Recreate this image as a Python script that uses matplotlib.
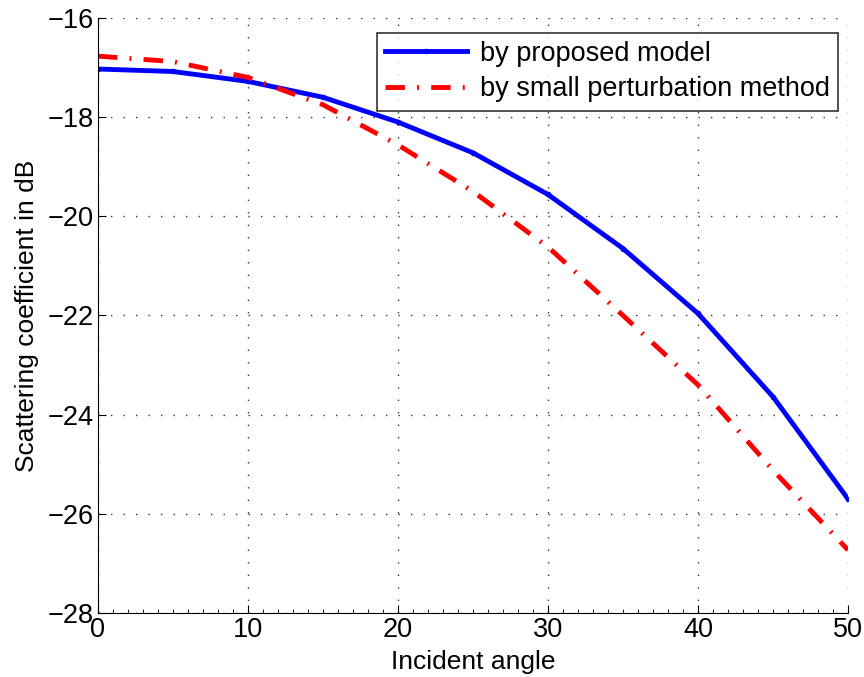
import matplotlib
matplotlib.use("Agg")
import matplotlib.pyplot as plt
from matplotlib.ticker import MultipleLocator

# incident angle (deg)
angle = [0, 5, 10, 15, 20, 25, 30, 35, 40, 45, 50]
# scattering coefficient in dB
proposed = [-17.03, -17.08, -17.28, -17.6, -18.1, -18.72, -19.56, -20.65, -21.96, -23.64, -25.7]
spm = [-16.77, -16.88, -17.2, -17.75, -18.56, -19.5, -20.62, -22.0, -23.4, -25.12, -26.73]

plt.rcParams['font.family'] = ['Liberation Sans', 'DejaVu Sans']

fig = plt.figure(figsize=(8.64, 6.77), dpi=100)
ax = fig.add_axes([0.1134, 0.0945, 0.8681, 0.879])

ax.plot(angle, proposed, '.-', color='#0000ff', lw=3.5, ms=6, label='by proposed model')
ax.plot(angle, spm, color='#ff0000', lw=3.5, dashes=(4, 2.5, 0.4, 2.5), label='by small perturbation method')

ax.set_xlim(0, 50)
ax.set_ylim(-28, -16)
ax.xaxis.set_major_locator(MultipleLocator(10))
ax.xaxis.set_minor_locator(MultipleLocator(1))
ax.yaxis.set_major_locator(MultipleLocator(2))

ax.grid(True, which='major', color='black', linestyle=(0, (1, 8)), lw=1.0, alpha=0.8)
ax.spines['top'].set_visible(False)
ax.spines['right'].set_visible(False)
ax.tick_params(axis='both', which='major', direction='in', length=6, labelsize=19.5, pad=3)
ax.tick_params(axis='x', which='minor', direction='in', length=3, top=False)
ax.tick_params(axis='y', which='minor', left=False)

ax.set_xlabel('Incident angle', fontsize=19, labelpad=5)
ax.set_ylabel('Scattering coefficient in dB', fontsize=19, labelpad=6)

leg = ax.legend(loc='upper right', bbox_to_anchor=(0.987, 0.975), fontsize=19.5,
                frameon=True, fancybox=False, edgecolor='black', handlelength=3.0,
                borderpad=0.3, labelspacing=0.35, handletextpad=0.5, borderaxespad=0)
leg.get_frame().set_linewidth(1.2)

fig.savefig('out.png', dpi=100)
